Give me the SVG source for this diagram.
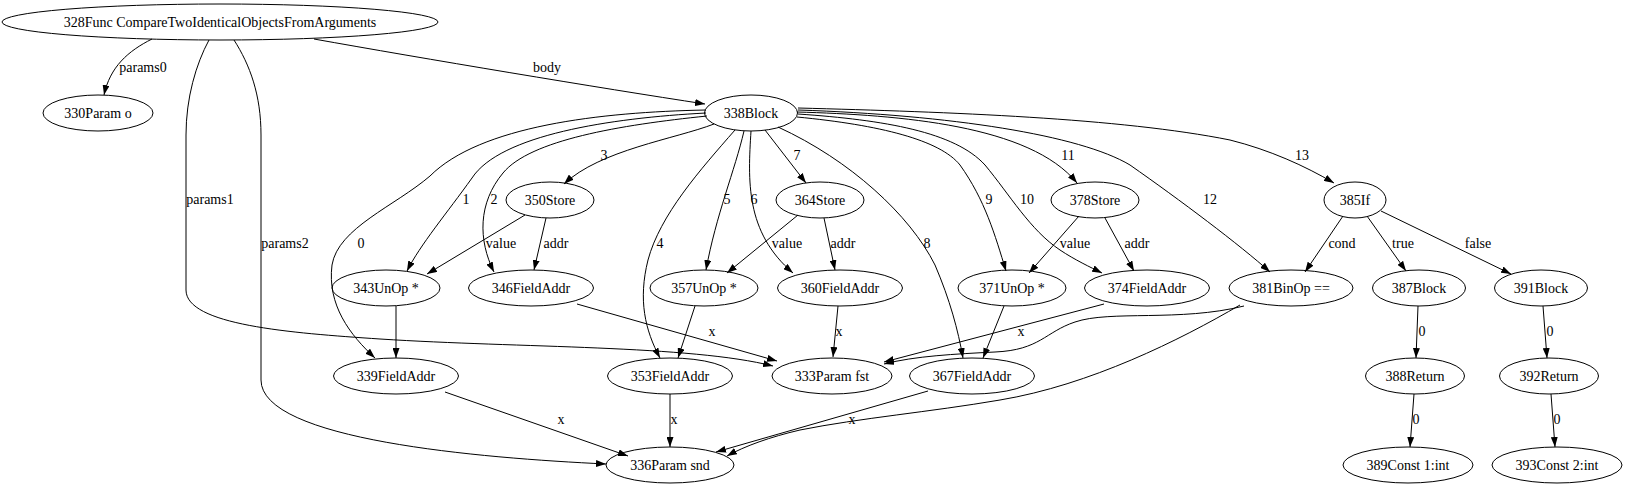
<svg xmlns="http://www.w3.org/2000/svg" width="1627" height="487" viewBox="0 0 1627 487">
<defs>
<style>
.n ellipse{fill:none;stroke:#000;stroke-width:1}
text{font-family:"Liberation Serif","Times New Roman",serif;font-size:14px;text-anchor:middle;fill:#000}
.e path{fill:none;stroke:#000;stroke-width:1;marker-end:url(#ah)}
</style>
<marker id="ah" markerWidth="10" markerHeight="7" refX="10" refY="3.5" orient="auto" markerUnits="userSpaceOnUse"><path d="M0,0 L10,3.5 L0,7 z" fill="#000"/></marker>
</defs>
<rect width="1627" height="487" fill="#fff"/>
<g class="e" id="edges">
<path d="M152,39 C128,51 110,67 104,95"/>
<path d="M314,39 C420,58 600,88 705,104"/>
<path d="M209,40 C196,64 186,98 186,135 L186,290 C186,325 290,333 380,339 C520,348 690,345 773,366"/>
<path d="M234,40 C250,65 261,95 261,135 L261,380 C261,440 480,458 606,464"/>
<path d="M706,110 C600,112 480,126 430,176 C395,206 338,228 332,265 C327,305 350,335 375,358"/>
<path d="M706,113 C610,118 500,135 472,178 C447,213 420,245 407,271"/>
<path d="M707,116 C620,125 530,140 503,173 C478,203 478,240 494,272"/>
<path d="M714,124 C675,139 600,150 564,184"/>
<path d="M735,130 C700,170 660,215 648,260 C638,300 645,330 660,358"/>
<path d="M744,131 C735,170 716,215 706,270"/>
<path d="M751,131 C748,180 745,232 793,273"/>
<path d="M765,130 L806,183"/>
<path d="M778,127 C850,160 910,215 935,265 C950,300 958,330 963,358"/>
<path d="M797,117 C880,125 940,140 960,165 C985,200 995,235 1006,271"/>
<path d="M798,114 C885,120 955,132 985,165 C1010,195 1030,230 1060,250 C1075,260 1090,267 1102,273"/>
<path d="M797,112 C900,115 1030,125 1077,183"/>
<path d="M798,110 C950,115 1080,135 1130,165 C1180,200 1240,245 1270,272"/>
<path d="M798,108 C950,112 1120,118 1230,140 C1270,150 1305,166 1334,183"/>
<path d="M525,215 L427,274"/>
<path d="M546,218 L534,270"/>
<path d="M798,215 L727,273"/>
<path d="M824,218 L835,270"/>
<path d="M1079,216 L1029,273"/>
<path d="M1105,218 L1134,271"/>
<path d="M1343,216 L1305,272"/>
<path d="M1367,216 L1406,271"/>
<path d="M1381,211 L1511,274"/>
<path d="M1418,306 L1416,358"/>
<path d="M1543,306 L1547,358"/>
<path d="M1414,394 L1410,447"/>
<path d="M1551,394 L1555,447"/>
<path d="M577,304 L777,361"/>
<path d="M838,306 L833,357"/>
<path d="M1104,304 L884,362"/>
<path d="M1244,306 C1180,322 1110,310 1075,322 C1045,332 1040,350 995,352 C955,354 915,356 884,364"/>
<path d="M1240,305 C1180,340 1090,385 1000,400 C930,412 860,418 800,430 C770,437 745,446 727,456"/>
<path d="M928,391 L716,452"/>
<path d="M445,392 L628,456"/>
<path d="M670,394 L670,447"/>
<path d="M396,306 L396,358"/>
<path d="M695,306 L678,358"/>
<path d="M1004,306 L983,358"/>
<text x="143" y="72">params0</text>
<text x="547" y="72">body</text>
<text x="210" y="204">params1</text>
<text x="285" y="248">params2</text>
<text x="361" y="248">0</text>
<text x="466" y="204">1</text>
<text x="494" y="204">2</text>
<text x="604" y="160">3</text>
<text x="501" y="248">value</text>
<text x="556" y="248">addr</text>
<text x="660" y="248">4</text>
<text x="727" y="204">5</text>
<text x="754" y="204">6</text>
<text x="797" y="160">7</text>
<text x="787" y="248">value</text>
<text x="843" y="248">addr</text>
<text x="927" y="248">8</text>
<text x="989" y="204">9</text>
<text x="1027" y="204">10</text>
<text x="1068" y="160">11</text>
<text x="1210" y="204">12</text>
<text x="1302" y="160">13</text>
<text x="1075" y="248">value</text>
<text x="1137" y="248">addr</text>
<text x="1342" y="248">cond</text>
<text x="1403" y="248">true</text>
<text x="1478" y="248">false</text>
<text x="1422" y="336">0</text>
<text x="1550" y="336">0</text>
<text x="1416" y="424">0</text>
<text x="1557" y="424">0</text>
<text x="712" y="336">x</text>
<text x="839" y="336">x</text>
<text x="1021" y="336">x</text>
<text x="561" y="424">x</text>
<text x="674" y="424">x</text>
<text x="852" y="424">x</text>
</g>
<g class="n" id="n328"><ellipse cx="220" cy="22" rx="218" ry="18"/><text x="220" y="26.5">328Func CompareTwoIdenticalObjectsFromArguments</text></g>
<g class="n" id="n330"><ellipse cx="98" cy="113" rx="55" ry="18"/><text x="98" y="117.5">330Param o</text></g>
<g class="n" id="n338"><ellipse cx="751" cy="113" rx="46.5" ry="18"/><text x="751" y="117.5">338Block</text></g>
<g class="n" id="n350"><ellipse cx="550" cy="200" rx="44" ry="18"/><text x="550" y="204.5">350Store</text></g>
<g class="n" id="n364"><ellipse cx="820" cy="200" rx="44" ry="18"/><text x="820" y="204.5">364Store</text></g>
<g class="n" id="n378"><ellipse cx="1095" cy="200" rx="44" ry="18"/><text x="1095" y="204.5">378Store</text></g>
<g class="n" id="n385"><ellipse cx="1355" cy="200" rx="31" ry="18"/><text x="1355" y="204.5">385If</text></g>
<g class="n" id="n343"><ellipse cx="386" cy="288" rx="54" ry="18"/><text x="386" y="292.5">343UnOp *</text></g>
<g class="n" id="n346"><ellipse cx="531" cy="288" rx="62.5" ry="18"/><text x="531" y="292.5">346FieldAddr</text></g>
<g class="n" id="n357"><ellipse cx="704" cy="288" rx="54" ry="18"/><text x="704" y="292.5">357UnOp *</text></g>
<g class="n" id="n360"><ellipse cx="840" cy="288" rx="62.5" ry="18"/><text x="840" y="292.5">360FieldAddr</text></g>
<g class="n" id="n371"><ellipse cx="1012" cy="288" rx="54" ry="18"/><text x="1012" y="292.5">371UnOp *</text></g>
<g class="n" id="n374"><ellipse cx="1147" cy="288" rx="62.5" ry="18"/><text x="1147" y="292.5">374FieldAddr</text></g>
<g class="n" id="n381"><ellipse cx="1291" cy="288" rx="62" ry="18"/><text x="1291" y="292.5">381BinOp ==</text></g>
<g class="n" id="n387"><ellipse cx="1419" cy="288" rx="46.5" ry="18"/><text x="1419" y="292.5">387Block</text></g>
<g class="n" id="n391"><ellipse cx="1541" cy="288" rx="46.5" ry="18"/><text x="1541" y="292.5">391Block</text></g>
<g class="n" id="n339"><ellipse cx="396" cy="376" rx="62.5" ry="18"/><text x="396" y="380.5">339FieldAddr</text></g>
<g class="n" id="n353"><ellipse cx="670" cy="376" rx="62.5" ry="18"/><text x="670" y="380.5">353FieldAddr</text></g>
<g class="n" id="n333"><ellipse cx="832" cy="376" rx="60" ry="18"/><text x="832" y="380.5">333Param fst</text></g>
<g class="n" id="n367"><ellipse cx="972" cy="376" rx="62.5" ry="18"/><text x="972" y="380.5">367FieldAddr</text></g>
<g class="n" id="n388"><ellipse cx="1415" cy="376" rx="49.5" ry="18"/><text x="1415" y="380.5">388Return</text></g>
<g class="n" id="n392"><ellipse cx="1549" cy="376" rx="49.5" ry="18"/><text x="1549" y="380.5">392Return</text></g>
<g class="n" id="n336"><ellipse cx="670" cy="465" rx="64" ry="18"/><text x="670" y="469.5">336Param snd</text></g>
<g class="n" id="n389"><ellipse cx="1408" cy="465" rx="65" ry="18"/><text x="1408" y="469.5">389Const 1:int</text></g>
<g class="n" id="n393"><ellipse cx="1557" cy="465" rx="65" ry="18"/><text x="1557" y="469.5">393Const 2:int</text></g>
</svg>
